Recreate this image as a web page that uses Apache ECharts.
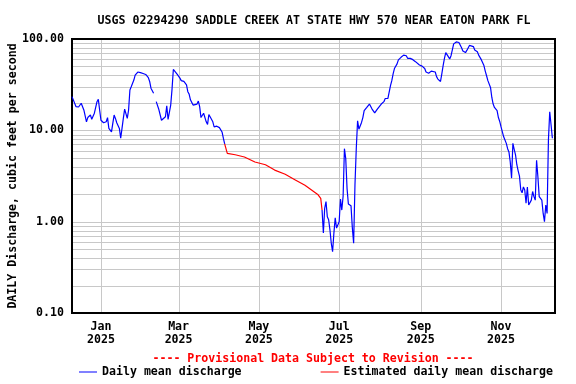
<!DOCTYPE html>
<html><head><meta charset="utf-8">
<script src="https://cdn.jsdelivr.net/npm/echarts@6/dist/echarts.min.js"></script>
<style>html,body{margin:0;padding:0;background:#fff}#c{width:576px;height:384px}</style>
</head><body><div id="c"></div>
<script>
// ---- text ----
const titleText = 'USGS 02294290 SADDLE CREEK AT STATE HWY 570 NEAR EATON PARK FL';
const yAxisTitle = 'DAILY Discharge, cubic feet per second';
const provisionalText = '---- Provisional Data Subject to Revision ----';
const seriesNames = ['Daily mean discharge', 'Estimated daily mean discharge'];

// ---- x axis: days since 2025-01-01 ----
const xMinDay = -22;   // 2024-12-10
const xMaxDay = 345;   // 2025-12-12
const monthTickDays = [0, 59, 120, 181, 243, 304];
const monthLabels = ['Jan', 'Mar', 'May', 'Jul', 'Sep', 'Nov'];
const yearLabels = ['2025', '2025', '2025', '2025', '2025', '2025'];

// ---- y axis (log) ----
const yTickValues = [0.1, 1, 10, 100];
const minorMultipliers = [2, 3, 4, 5, 6, 7, 8, 9];

// ---- daily mean discharge (cfs), day offsets from 2025-01-01 ----
const dischargeDays = [
  -22,-19,-17,-15,-14,-13,-11,-10,-8,-7,-5,-3,-2,-1,0,2,4,5,6,8,9,10,11,12,14,15,16,17,18,20,21,22,23,25,26,28,30,32,34,36,37,38,40,41,42,44,45,46,47,49,50,51,52,53,54,55,56,58,60,61,63,65,66,67,68,70,71,73,74,75,76,77,78,80,81,82,83,85,86,88,90,92,93,94,
  131,
  168,169,170,171,172,173,174,175,176,177,178,179,180,181,182,183,184,185,186,187,188,189,190,191,192,193,194,195,196,197,198,199,200,202,204,206,208,210,211,213,215,216,218,219,220,221,222,223,225,226,228,230,232,233,235,237,239,240,242,244,246,247,249,251,252,254,255,256,258,259,260,261,262,263,265,266,267,268,270,272,273,274,275,277,278,280,281,283,284,286,287,289,291,292,293,294,296,297,298,299,301,302,303,304,306,308,309,310,311,312,313,314,315,316,317,318,319,320,321,322,323,324,325,326,327,328,329,330,331,332,333,334,335,336,337,338,339,340,341,342,343
];
const dischargeValues = [
  23.4,18.2,18,19.8,19.4,16.7,12.4,13.8,14.7,13.2,15.4,20.6,21.9,16.7,12.9,12.1,12.4,13.8,10.5,9.6,11.9,14.7,13.5,12.1,10.5,8.2,10.5,13.5,17.1,13.5,16.7,27.7,30,35.5,40.2,43.5,42.9,41.9,40.9,37.8,34.3,28.9,25.5,null,20.6,16.9,16.4,12.9,12.7,14.1,18.5,13.2,13.5,18.9,28.1,46.4,45.7,40.9,37.3,35,34.3,31.4,26.5,24.9,21.6,18.9,18.5,19.4,20.9,18.2,13.8,13.5,15.4,12.4,11.6,14.9,14.7,12.4,10.9,11.1,10.7,9.6,8.2,7.1,
  null,
  1.34,0.75,1.4,1.66,1.13,1.05,0.81,0.58,0.47,0.75,1.1,0.85,0.81,1.0,1.77,1.34,1.9,6.3,4.9,2.3,1.56,1.5,1.49,0.86,0.58,2.5,6.3,12.7,10.3,10.7,12.2,13.8,16.4,17.8,19.4,17.1,15.5,17.1,17.8,19.4,20.6,22.3,22.3,22.9,30.8,35,41.5,47.5,53.4,59,63,66.6,65.6,61.4,61.4,59.4,56.5,55.7,52,50.5,47.5,43.5,42.2,44.5,45.8,43.5,38.7,36.4,34.3,41.5,51.2,61.4,71,68,60.5,65.6,75.9,88.4,92.9,91.6,87.6,80.4,74,71,75,85,82.6,82.6,75.9,72.5,66.6,59.4,51.2,44.5,39.6,35,29.5,22.9,19.4,17.8,16.4,13.8,12.5,10.9,8.5,7.2,6.3,5.8,4.5,3.0,7.2,6.2,5.4,4.2,3.6,3.15,2.22,2.07,2.4,2.22,1.59,2.4,1.52,1.52,1.72,2.14,1.88,1.72,4.7,3.1,1.88,1.97,1.72,1.23,1.0,1.52,1.23,7.8,16,11.5,8.2
];

// ---- estimated daily mean discharge ----
const estimatedDays = [94, 96, 102, 109, 117, 125, 132, 140, 147, 155, 160, 165, 167, 168];
const estimatedValues = [7.1, 5.6, 5.4, 5.1, 4.5, 4.2, 3.67, 3.3, 2.9, 2.5, 2.22, 1.97, 1.8, 1.34];

// ---- build ----
const FONT = "'DejaVu Sans Mono', 'Liberation Mono', monospace";
const FS = 11.6;
const GRID_COLOR = '#c8c8c8';

const hGridValues = [];
[0.1, 1, 10].forEach(function (dec) {
  if (dec > 0.1) hGridValues.push(dec);
  minorMultipliers.forEach(function (m) { hGridValues.push(+(dec * m).toPrecision(3)); });
});

const pairs = (xs, ys) => xs.map((x, i) => [x, ys[i]]);

const chart = echarts.init(document.getElementById('c'), null, { renderer: 'canvas' });
chart.setOption({
  animation: false,
  backgroundColor: '#fff',
  grid: { left: 72, right: 21, top: 39, bottom: 71, containLabel: false, outerBoundsMode: 'none', show: true, borderColor: '#000', borderWidth: 2, backgroundColor: 'transparent' },
  graphic: [
    { type: 'text', x: 314, y: 20.5, style: { text: titleText, textAlign: 'center', textVerticalAlign: 'middle', fontFamily: FONT, fontWeight: 'bold', fontSize: FS, fill: '#000' } },
    { type: 'text', x: 313, y: 359, style: { text: provisionalText, textAlign: 'center', textVerticalAlign: 'middle', fontFamily: FONT, fontWeight: 'bold', fontSize: FS, fill: '#ff0000' } }
  ],
  legend: {
    left: 79, top: 366, padding: 0, itemWidth: 18, itemHeight: 1, itemGap: 79, icon: 'rect',
    data: seriesNames,
    textStyle: { fontFamily: FONT, fontWeight: 'bold', fontSize: FS, color: '#000' }
  },
  xAxis: {
    type: 'value', min: xMinDay, max: xMaxDay,
    axisLine: { show: false }, axisTick: { show: false }, splitLine: { show: false },
    axisLabel: {
      customValues: monthTickDays,
      margin: 7, lineHeight: 13.5, fontFamily: FONT, fontWeight: 'bold', fontSize: FS, color: '#000',
      formatter: function (v) { const i = monthTickDays.indexOf(Math.round(v)); return i < 0 ? '' : monthLabels[i] + '\n' + yearLabels[i]; }
    }
  },
  yAxis: {
    type: 'log', logBase: 10, min: 0.1, max: 100,
    axisLine: { show: false }, axisTick: { show: false }, splitLine: { show: false },
    axisLabel: {
      customValues: yTickValues,
      margin: 8, fontFamily: FONT, fontWeight: 'bold', fontSize: FS, color: '#000',
      formatter: function (v) { return Number(v).toFixed(2); }
    },
    name: yAxisTitle, nameLocation: 'middle', nameGap: 53, nameMoveOverlap: false,
    nameTextStyle: { fontFamily: FONT, fontWeight: 'bold', fontSize: FS, color: '#000' }
  },
  series: [
    {
      type: 'custom', silent: true, z: 1,
      data: hGridValues.map(v => [xMinDay, v]),
      encode: { x: 0, y: 1 },
      renderItem: function (params, api) {
        const cs = params.coordSys;
        const y = Math.round(api.coord([xMinDay, api.value(1)])[1]) + 0.5;
        return { type: 'line', silent: true, shape: { x1: cs.x + 1, y1: y, x2: cs.x + cs.width - 1, y2: y }, style: { stroke: GRID_COLOR, lineWidth: 1 } };
      }
    },
    {
      type: 'custom', silent: true, z: 1,
      data: monthTickDays.map(d => [d, 1]),
      encode: { x: 0, y: 1 },
      renderItem: function (params, api) {
        const cs = params.coordSys;
        const x = Math.round(api.coord([api.value(0), 1])[0]) + 0.5;
        return { type: 'line', silent: true, shape: { x1: x, y1: cs.y + 1, x2: x, y2: cs.y + cs.height - 1 }, style: { stroke: GRID_COLOR, lineWidth: 1 } };
      }
    },
    {
      name: seriesNames[0], type: 'line', z: 3, symbol: 'none', showSymbol: false, connectNulls: false,
      lineStyle: { color: '#0000ff', width: 1.2 }, itemStyle: { color: '#0000ff' },
      data: pairs(dischargeDays, dischargeValues)
    },
    {
      name: seriesNames[1], type: 'line', z: 4, symbol: 'none', showSymbol: false,
      lineStyle: { color: '#ff0000', width: 1.2 }, itemStyle: { color: '#ff0000' },
      data: pairs(estimatedDays, estimatedValues)
    }
  ]
});
</script>
</body></html>
